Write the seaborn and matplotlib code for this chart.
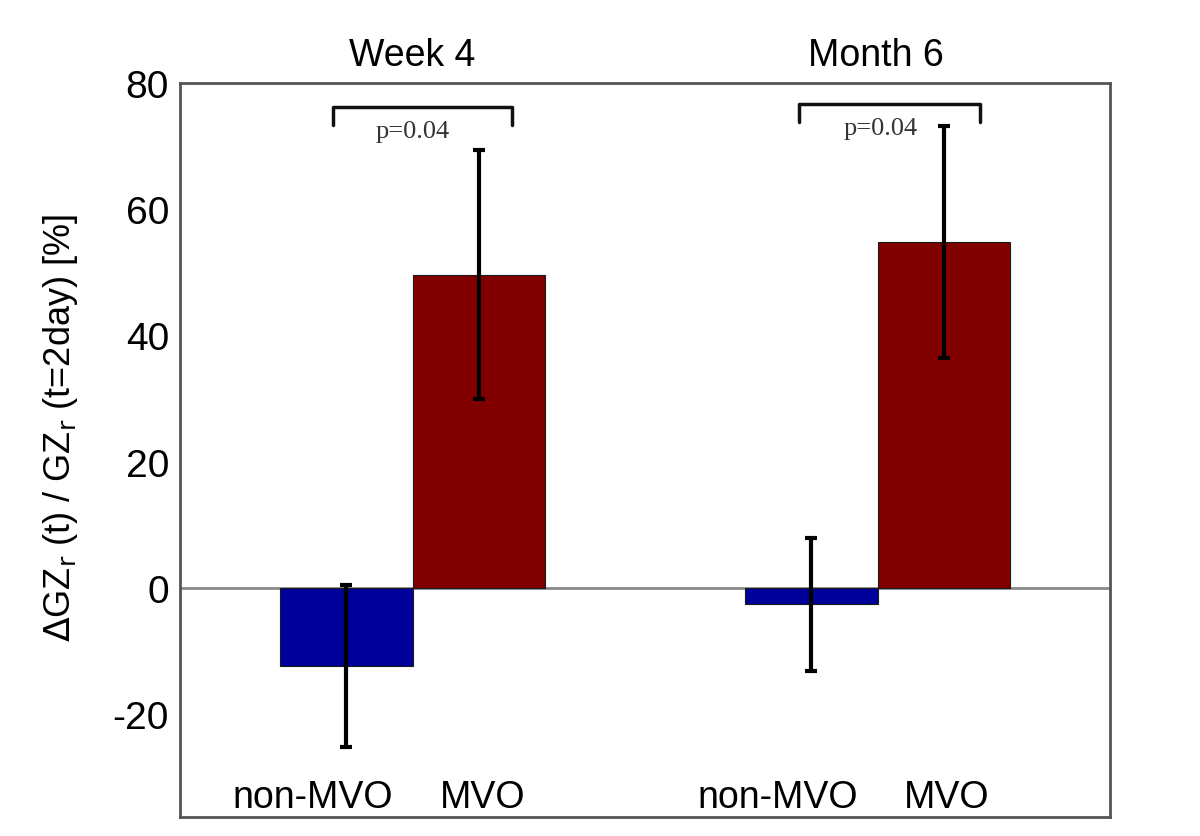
import matplotlib
matplotlib.use("Agg")
import matplotlib.pyplot as plt
import numpy as np
import pandas as pd
import seaborn as sns

# data
timepoints = ["Week 4", "Week 4", "Month 6", "Month 6"]
groups = ["non-MVO", "MVO", "non-MVO", "MVO"]
positions = [1.25, 2.25, 4.75, 5.75]
means = [-12.3, 49.6, -2.6, 54.8]
errors = [12.8, 19.7, 10.6, 18.4]
p_labels = ["p=0.04", "p=0.04"]

df = pd.DataFrame({"timepoint": timepoints, "group": groups,
                   "pos": positions, "value": means, "err": errors})

sns.set_theme(style="white")
plt.rcParams["font.family"] = ["Liberation Sans", "DejaVu Sans"]
plt.rcParams["axes.unicode_minus"] = False
plt.rcParams["text.color"] = "black"
plt.rcParams["axes.labelcolor"] = "black"
plt.rcParams["ytick.color"] = "black"

fig = plt.figure(figsize=(12, 8.37), dpi=100)
ax = fig.add_axes([0.15, 0.023, 0.775, 0.877])

sns.barplot(data=df, x="pos", y="value", hue="group", native_scale=True,
            dodge=False, width=1.0, errorbar=None, legend=False, saturation=1,
            palette={"non-MVO": "#00009a", "MVO": "#800000"},
            edgecolor="#1a1a1a", linewidth=0.8, ax=ax)

ax.errorbar(df["pos"], df["value"], yerr=df["err"], fmt="none",
            ecolor="black", elinewidth=3, capsize=4, capthick=3, zorder=5)

ax.axhline(0, color="#8a8a8a", lw=2, zorder=0.5)

ax.set_xlim(0, 7)
ax.set_ylim(-36.2, 80)
ax.set_yticks([-20, 0, 20, 40, 60, 80])
ax.set_xticks([])
ax.set_xlabel("")
ax.tick_params(axis="y", labelsize=28, length=0, pad=8)
ax.set_ylabel(r"$\Delta$GZ$_\mathrm{r}$ (t) / GZ$_\mathrm{r}$ (t=2day) [%]",
              fontsize=26)
ax.yaxis.set_label_coords(-0.107, 0.531)

for side in ["left", "right", "top", "bottom"]:
    ax.spines[side].set_color("#555555")
    ax.spines[side].set_linewidth(2)

# time point titles and group labels
title_x = [1.75, 5.24]
for x, t in zip(title_x, ["Week 4", "Month 6"]):
    ax.text(x, 81.5, t, ha="center", va="bottom", fontsize=27, clip_on=False)

label_x = [1.0, 2.28, 4.5, 5.77]
for x, g in zip(label_x, groups):
    ax.text(x, -33, g, ha="center", va="center", fontsize=27)

# significance brackets
brackets = [(1.15, 2.5, 76.2), (4.66, 6.02, 76.7)]
text_x = [1.75, 5.27]
for (x0, x1, y), tx, p in zip(brackets, text_x, p_labels):
    ax.plot([x0, x0, x1, x1], [y - 2.9, y, y, y - 2.9], color="#111111", lw=2.5)
    ax.text(tx, y - 3.9, p, ha="center", va="center", fontsize=19,
            family=["Liberation Serif", "DejaVu Serif"], color="#333333")

fig.savefig("out.png", dpi=100)
